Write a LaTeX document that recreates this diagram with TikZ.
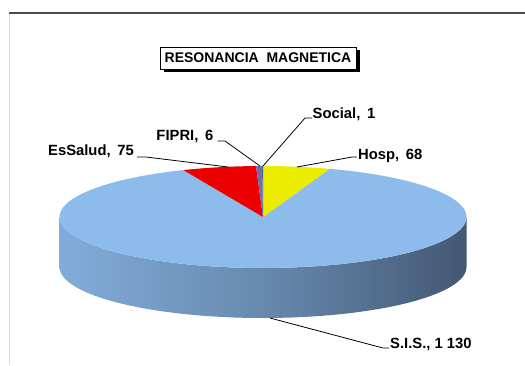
\documentclass[tikz,border=0pt]{standalone}
\usepackage{fontspec}
\setmainfont{Liberation Sans}
\usetikzlibrary{shadows}
\definecolor{sisTop}{RGB}{141,187,235}
\definecolor{sisL}{RGB}{138,184,232}
\definecolor{sisD}{RGB}{61,80,104}
\definecolor{esRed}{RGB}{236,0,0}
\definecolor{hospY}{RGB}{236,236,0}
\definecolor{fipriC}{RGB}{112,112,168}
\definecolor{socialC}{RGB}{80,100,150}
\pgfdeclarehorizontalshading{sideshade}{100bp}{color(0bp)=(sisL); color(17bp)=(sisL); color(50bp)=(sisL!55!sisD); color(79bp)=(sisD); color(100bp)=(sisD)}
\tikzset{
  lbl/.style={inner sep=0pt, font=\fontsize{14.8}{17}\selectfont\bfseries},
  leader/.style={line width=0.8pt, black},
  ttl/.style={draw=black, line width=0.8pt, fill=white, minimum width=196pt, minimum height=22pt, inner sep=0pt,
    font=\fontsize{14}{16}\selectfont\bfseries,
    drop shadow={shadow xshift=4pt, shadow yshift=-3pt, fill=black, opacity=1}},
}
\newcommand{\pieX}[1]{263+203.5*cos(#1)}
\newcommand{\pieY}[1]{217-51*sin(#1)}
\newcommand{\csp}{\hspace{0.45em}}
\begin{document}
\begin{tikzpicture}[x=1pt,y=-1pt]
\useasboundingbox (0,0) rectangle (525,365);
\fill[white] (0,0) rectangle (525,365);
% frame lines
\draw[line width=0.8pt, black!15] (9,13) -- (9,365);
\draw[line width=2pt, black!70] (9,12.5) -- (525,12.5);
% title
\node[ttl] (title) at (258,58) {RESONANCIA\ \ MAGNETICA};
% pie side
\shade[shading=sideshade] (59.5,217) -- plot[domain=180:360, samples=80] ({\pieX{\x}},{\pieY{\x}}) -- (466.5,267) -- plot[domain=360:180, samples=80] ({\pieX{\x}},{50+\pieY{\x}}) -- cycle;
% pie top
\coordinate (c) at (263,217);
\fill[sisTop] (c) -- plot[domain=70.875:-246.94, samples=150] ({\pieX{\x}},{\pieY{\x}}) -- cycle;
\fill[hospY] (c) -- plot[domain=90:70.875, samples=20] ({\pieX{\x}},{\pieY{\x}}) -- cycle;
\fill[esRed] (c) -- plot[domain=113.06:91.97, samples=20] ({\pieX{\x}},{\pieY{\x}}) -- cycle;
\fill[fipriC] (c) -- plot[domain=91.97:90.28, samples=5] ({\pieX{\x}},{\pieY{\x}}) -- cycle;
\fill[socialC] (c) -- plot[domain=90.28:90, samples=3] ({\pieX{\x}},{\pieY{\x}}) -- cycle;
% labels
\node[lbl, anchor=base west] (lSocial) at (312.5,118) {Social,\csp1};
\node[lbl, anchor=base west] (lHosp) at (358,159) {Hosp,\csp68};
\node[lbl, anchor=base east] (lFipri) at (213.5,140) {FIPRI,\csp6};
\node[lbl, anchor=base east] (lEs) at (134,155) {EsSalud,\csp75};
\node[lbl, anchor=base west] (lSis) at (390,348) {S.I.S., 1 130};
% leader points
\coordinate (pSocial) at (263,166);
\coordinate (pFipri) at (260,166);
\coordinate (pEs) at (228,167);
\coordinate (pHosp) at (297,167);
\coordinate (pSis) at (270,318);
\coordinate (eSocial) at (305,118);
\coordinate (eHosp) at (352,157);
\coordinate (eFipri) at (225,141);
\coordinate (eEs) at (146,157);
\coordinate (eSis) at (383,348);
\draw[leader] ([xshift=-0.5pt]lSocial.base west) -- (eSocial) -- (pSocial);
\draw[leader] ([xshift=-1pt,yshift=2pt]lHosp.base west) -- (eHosp) -- (pHosp);
\draw[leader] ([xshift=4pt,yshift=-1pt]lFipri.base east) -- (eFipri) -- (pFipri);
\draw[leader] ([xshift=3pt,yshift=-2pt]lEs.base east) -- (eEs) -- (pEs);
\draw[leader] ([xshift=-1pt]lSis.base west) -- (eSis) -- (pSis);
\end{tikzpicture}
\end{document}
